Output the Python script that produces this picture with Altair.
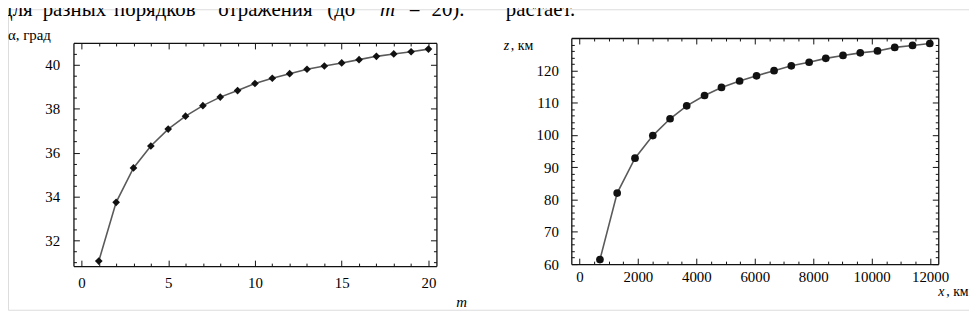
import altair as alt
import pandas as pd

# ---------------- data ----------------
m_values = list(range(1, 21))
alpha_values = [31.05, 33.73, 35.30, 36.30, 37.07, 37.66, 38.14, 38.53, 38.83, 39.15,
                39.39, 39.60, 39.80, 39.95, 40.09, 40.24, 40.39, 40.50, 40.60, 40.72]

x_km = [700, 1290, 1900, 2510, 3100, 3670, 4280, 4860, 5480, 6060,
        6660, 7250, 7860, 8430, 9020, 9610, 10200, 10790, 11400, 11990]
z_km = [61.4, 82.0, 92.8, 99.8, 105.0, 109.0, 112.2, 114.7, 116.7, 118.3,
        119.9, 121.4, 122.5, 123.7, 124.6, 125.4, 126.0, 127.1, 127.7, 128.3]

left_x_major = [0, 5, 10, 15, 20]
left_x_minor = [v for v in range(0, 21) if v % 5 != 0]
left_y_major = [32, 34, 36, 38, 40]
left_y_minor = [31, 31.5, 32.5, 33, 33.5, 34.5, 35, 35.5, 36.5, 37, 37.5,
                38.5, 39, 39.5, 40.5, 41]

right_x_major = [0, 2000, 4000, 6000, 8000, 10000, 12000]
right_x_minor = [v for v in range(500, 12001, 500) if v % 2000 != 0]
right_y_major = [60, 70, 80, 90, 100, 110, 120]
right_y_minor = [v for v in range(62, 130, 2) if v % 10 != 0]

# ---------------- layout ----------------
W, H = 969, 303
SERIF = "Liberation Serif, Times New Roman, DejaVu Serif, serif"
INK = "#111111"

left_df = pd.DataFrame({"m": m_values, "alpha": alpha_values})
right_df = pd.DataFrame({"x": x_km, "z": z_km})
one_row = pd.DataFrame({"k": [0]})


def panel(df, xf, yf, xdom, ydom, xr, yr, xmaj, xmin, ymaj, ymin,
          shape, size, xlabpad, ylabpad):
    xs = alt.Scale(domain=xdom, range=xr, zero=False, nice=False)
    ys = alt.Scale(domain=ydom, range=yr, zero=False, nice=False)
    lpx, rpx = xr
    bpx, tpx = yr
    lab = dict(labelFont=SERIF, labelFontSize=15, labelColor="black",
               labelFlush=False, labelOverlap=False, grid=False, title=None,
               format="d")

    data_layer = alt.Chart(df).mark_line(
        color="#5a5a5a", strokeWidth=1.6,
        point=alt.OverlayMarkDef(shape=shape, size=size, filled=True,
                                 color=INK, opacity=1),
    ).encode(
        x=alt.X(f"{xf}:Q", scale=xs,
                axis=alt.Axis(orient="bottom", offset=bpx - H, values=xmaj,
                              ticks=False, tickSize=0, domain=False,
                              labelPadding=xlabpad, labelBaseline="top", **lab)),
        y=alt.Y(f"{yf}:Q", scale=ys,
                axis=alt.Axis(orient="left", offset=-lpx, values=ymaj,
                              ticks=False, tickSize=0, domain=False,
                              labelPadding=ylabpad, labelAlign="right",
                              labelBaseline="middle", **lab)),
    )

    def frame(xorient, xoff, yorient, yoff, xv, yv, ts, dom):
        ax = dict(labels=False, ticks=True, tickSize=ts, tickColor=INK,
                  tickWidth=1, domain=dom, domainColor=INK, domainWidth=1.3,
                  grid=False, title=None)
        return alt.Chart(df).mark_point(opacity=0).encode(
            x=alt.X(f"{xf}:Q", scale=xs,
                    axis=alt.Axis(orient=xorient, offset=xoff, values=xv, **ax)),
            y=alt.Y(f"{yf}:Q", scale=ys,
                    axis=alt.Axis(orient=yorient, offset=yoff, values=yv, **ax)),
        )

    layers = [
        data_layer,
        # bottom edge (ticks pointing up) and left edge (ticks pointing right)
        frame("top", -bpx, "right", lpx - W, xmaj, ymaj, 6, True),
        frame("top", -bpx, "right", lpx - W, xmin, ymin, 3, False),
        # top edge (ticks pointing down) and right edge (ticks pointing left)
        frame("bottom", tpx - H, "left", -rpx, xmaj, ymaj, 6, True),
        frame("bottom", tpx - H, "left", -rpx, xmin, ymin, 3, False),
    ]
    return layers


def label(text, x, y, size=15, italic=False, align="left"):
    return alt.Chart(one_row).mark_text(
        text=text, font=SERIF, fontSize=size,
        fontStyle="italic" if italic else "normal",
        align=align, baseline="alphabetic", color="black",
    ).encode(x=alt.value(x), y=alt.value(y))


left_layers = panel(left_df, "m", "alpha", [-0.46, 20.46], [30.82, 41.0],
                    [66, 432], [259, 34], left_x_major, left_x_minor,
                    left_y_major, left_y_minor, "diamond", 60, 10, 14)
right_layers = panel(right_df, "x", "z", [-280, 12280], [60, 130],
                     [568, 938], [257, 29], right_x_major, right_x_minor,
                     right_y_major, right_y_minor, "circle", 60, 6, 13)

texts = [
    # running text of the page, cut at the top
    label("для", -6, 7, 21),
    label("разных", 35, 7, 21),
    label("порядков", 107, 7, 21),
    label("отражения", 212, 7, 21),
    label("(до", 322, 7, 21),
    label("m", 375, 7, 21, italic=True),
    label("=", 404, 7, 21),
    label("20).", 427, 7, 21),
    label("растает.", 502, 7, 21),
    # axis titles
    label("α, град", 0, 31, 15),
    label("m", 452, 300, 15, italic=True),
    label("z", 500, 41, 14, italic=True),
    label(", км", 507, 41, 14),
    label("x", 938, 289, 14, italic=True),
    label(", км", 946, 289, 14),
]

chart = alt.layer(*left_layers, *right_layers, *texts).resolve_scale(
    x="independent", y="independent"
).resolve_axis(
    x="independent", y="independent"
).properties(
    width=W, height=H, padding=0,
    autosize=alt.AutoSizeParams(type="none"),
).configure_view(stroke=None).configure(background="white")

chart.save("out.html", embed_options={"renderer": "svg", "actions": False})
